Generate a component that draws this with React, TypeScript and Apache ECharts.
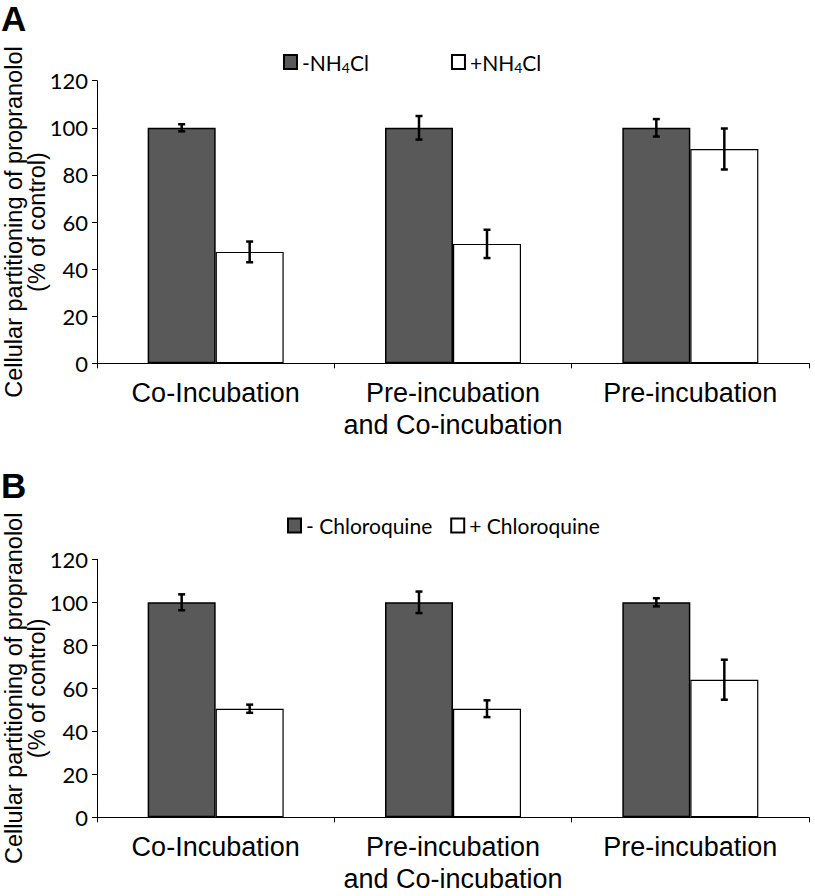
import React, { useEffect, useRef } from "react";
import * as echarts from "echarts";

const categories = ["Co-Incubation", "Pre-incubation\nand Co-incubation", "Pre-incubation"];

const seriesANames = ["-NH4Cl", "+NH4Cl"];
const aMinus = [100, 100, 100];
const aMinusErr = [1.5, 5, 3.7];
const aPlus = [47.3, 50.7, 91];
const aPlusErr = [4.4, 6, 8.7];

const seriesBNames = ["- Chloroquine", "+ Chloroquine"];
const bMinus = [100, 100, 100];
const bMinusErr = [3.7, 5, 1.9];
const bPlus = [50.5, 50.5, 64];
const bPlusErr = [1.9, 3.9, 9.3];

const BAR_W = 68;
const DARK = "#595959";

function errSeries(values: number[], errs: number[], idx: number, side: number) {
  return {
    type: "custom",
    xAxisIndex: idx,
    yAxisIndex: idx,
    silent: true,
    z: 10,
    data: values.map((v, i) => [i, v - errs[i], v + errs[i]]),
    renderItem: (params: any, api: any) => {
      const lo = api.coord([api.value(0), api.value(1)]);
      const hi = api.coord([api.value(0), api.value(2)]);
      const x = lo[0] + (side * BAR_W) / 2;
      const cap = 3.5;
      const style = { stroke: "#000", lineWidth: 2.5 };
      return {
        type: "group",
        children: [
          { type: "line", shape: { x1: x, y1: lo[1], x2: x, y2: hi[1] }, style },
          { type: "line", shape: { x1: x - cap, y1: lo[1], x2: x + cap, y2: lo[1] }, style },
          { type: "line", shape: { x1: x - cap, y1: hi[1], x2: x + cap, y2: hi[1] }, style },
        ],
      };
    },
  };
}

function barSeries(name: string, values: number[], idx: number, dark: boolean) {
  return {
    type: "bar",
    name,
    xAxisIndex: idx,
    yAxisIndex: idx,
    data: values,
    barWidth: BAR_W,
    barGap: "0%",
    itemStyle: {
      color: dark ? DARK : "#ffffff",
      borderColor: "#000",
      borderWidth: dark ? 1.5 : 1.2,
    },
  };
}

const yAxisBase = (idx: number) => ({
  type: "value",
  gridIndex: idx,
  min: 0,
  max: 120,
  interval: 20,
  name: "Cellular partitioning of propranolol\n(% of control)",
  nameLocation: "middle",
  nameGap: 49,
  nameMoveOverlap: false,
  nameTextStyle: { fontFamily: "Liberation Sans, Arial", fontSize: 23.5, color: "#000", lineHeight: 23 },
  axisLine: { show: true, lineStyle: { color: "#000", width: 1 } },
  axisTick: { show: true, length: 5, lineStyle: { color: "#000" } },
  splitLine: { show: false },
  axisLabel: {
    fontFamily: "Lato, Open Sans, sans-serif",
    fontSize: 22,
    color: "#000",
    margin: 9,
  },
});

const xAxisBase = (idx: number) => ({
  type: "category",
  gridIndex: idx,
  data: categories,
  axisLine: { show: true, lineStyle: { color: "#000", width: 1 } },
  axisTick: { show: true, length: 5, alignWithLabel: false, lineStyle: { color: "#000" } },
  axisLabel: {
    fontFamily: "Liberation Sans, Arial",
    fontSize: 27,
    color: "#000",
    margin: 14,
    lineHeight: 32,
    interval: 0,
  },
});

const legendRich = {
  t: { fontFamily: "Lato, Open Sans, sans-serif", fontSize: 21, color: "#000", lineHeight: 24 },
  sub: { fontFamily: "Lato, Open Sans, sans-serif", fontSize: 14, color: "#000", lineHeight: 24, verticalAlign: "bottom", padding: [10, 0, 0, 0] },
};

const fmtLegend = (name: string) => {
  const m = name.match(/^(.*NH)4(Cl)$/);
  if (m) return `{t|${m[1]}}{sub|4}{t|${m[2]}}`;
  return `{t|${name}}`;
};

export default function App() {
  const ref = useRef<HTMLDivElement>(null);
  useEffect(() => {
    if (!ref.current) return;
    const chart = echarts.init(ref.current, null, { renderer: "svg" });
    chart.setOption({
      animation: false,
      backgroundColor: "#fff",
      grid: [
        { left: 97, right: 6, top: 80.7, height: 282.6, containLabel: false, outerBoundsMode: "none" },
        { left: 97, right: 6, top: 559.3, height: 258, containLabel: false, outerBoundsMode: "none" },
      ],
      legend: [
        {
          data: seriesANames,
          left: 278,
          top: 45,
          itemWidth: 13,
          itemHeight: 14,
          itemGap: 82,
          icon: "rect",
          formatter: fmtLegend,
          textStyle: { rich: legendRich },
        },
        {
          data: seriesBNames,
          left: 282,
          top: 510,
          itemWidth: 13,
          itemHeight: 14,
          itemGap: 18,
          icon: "rect",
          formatter: fmtLegend,
          textStyle: { rich: legendRich },
        },
      ],
      xAxis: [xAxisBase(0), xAxisBase(1)],
      yAxis: [yAxisBase(0), yAxisBase(1)],
      graphic: [
        { type: "text", left: 1, top: 1, style: { text: "A", font: "bold 35px Liberation Sans, Arial", fill: "#000" } },
        { type: "text", left: 1, top: 468, style: { text: "B", font: "bold 35px Liberation Sans, Arial", fill: "#000" } },
      ],
      series: [
        barSeries(seriesANames[0], aMinus, 0, true),
        barSeries(seriesANames[1], aPlus, 0, false),
        errSeries(aMinus, aMinusErr, 0, -1),
        errSeries(aPlus, aPlusErr, 0, 1),
        barSeries(seriesBNames[0], bMinus, 1, true),
        barSeries(seriesBNames[1], bPlus, 1, false),
        errSeries(bMinus, bMinusErr, 1, -1),
        errSeries(bPlus, bPlusErr, 1, 1),
      ],
    });
    return () => chart.dispose();
  }, []);
  return <div ref={ref} style={{ width: 815, height: 896, position: "absolute", left: 0, top: 0 }} />;
}
